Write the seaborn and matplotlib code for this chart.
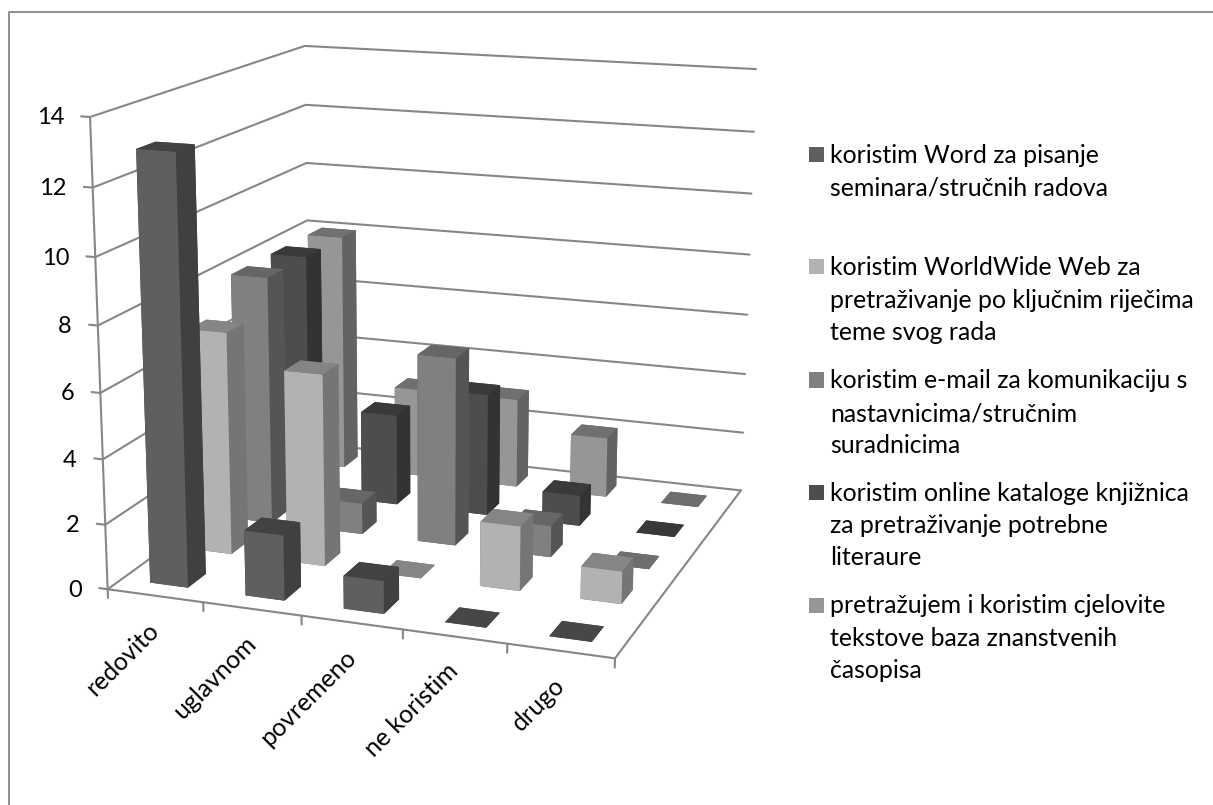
import numpy as np
import matplotlib
matplotlib.use("Agg")
import matplotlib.pyplot as plt
from matplotlib.lines import Line2D
from matplotlib.patches import Rectangle
from mpl_toolkits.mplot3d import proj3d
import seaborn as sns

categories = ["redovito", "uglavnom", "povremeno", "ne koristim", "drugo"]
word = [13, 2, 1, 0, 0]
web = [7, 6, 0, 2, 1]
email = [8, 1, 6, 1, 0]
catalog = [8, 3, 4, 1, 0]
fulltext = [8, 3, 3, 2, 0]
series = [word, web, email, catalog, fulltext]
z_ticks = [0, 2, 4, 6, 8, 10, 12, 14]
legend_lines = [
    ["koristim Word za pisanje", "seminara/stručnih radova"],
    ["koristim WorldWide Web za", "pretraživanje po ključnim riječima", "teme svog rada"],
    ["koristim e-mail za komunikaciju s", "nastavnicima/stručnim", "suradnicima"],
    ["koristim online kataloge knjižnica", "za pretraživanje potrebne", "literaure"],
    ["pretražujem i koristim cjelovite", "tekstove baza znanstvenih", "časopisa"],
]
legend_baseline = [[163, 195], [275, 308, 340], [388, 421, 453], [501, 533, 565], [613, 646, 678]]
# front, top, side, flat (zero height) greys
face_front = ["#5f5f5f", "#b2b2b2", "#808080", "#4d4d4d", "#969696"]
face_top = ["#424242", "#858585", "#666666", "#3a3a3a", "#707070"]
face_side = ["#404040", "#757575", "#555555", "#333333", "#636363"]
face_flat = ["#474747", "#858585", "#6e6e6e", "#383838", "#6e6e6e"]

sns.set_theme(style="white")
plt.rcParams["font.family"] = ["Lato", "DejaVu Sans"]
W, H = 1213, 805
fig = plt.figure(figsize=(W / 100, H / 100), dpi=100, facecolor="white")
# The outer chart frame: only its top and left edges fall inside the picture
fig.add_artist(Line2D([9 / W, 9 / W, 1], [0, 1 - 12 / H, 1 - 12 / H], transform=fig.transFigure,
                      color="#868686", lw=1.3))
ax = fig.add_axes([0, (1 - W / H) / 2, 1, W / H], projection="3d")
ax.set_axis_off()
ax.patch.set_visible(False)
ax.computed_zorder = False
ax.apply_aspect()

# Camera calibrated from where the chart box corners fall in the picture
world = np.array([[0, 0, 0], [0, 0, 14], [0, 0, 8], [0, 5, 14], [0, 5, 10], [5, 5, 14], [5, 5, 8],
                  [5, 5, 0], [5, 0, 0], [1, 0, 0], [4, 0, 0]], float)
pixels = np.array([[108, 589], [90, 117], [98, 325], [305, 46], [306, 163], [756, 69], [749.5, 255],
                   [741, 490], [615, 658], [203, 603], [507, 644]], float)
display = np.column_stack([pixels[:, 0], H - pixels[:, 1]])
uv = ax.transData.inverted().transform(display)
rows = []
for (X, Y, Z), (u, v) in zip(world, uv):
    rows.append([X, Y, Z, 1, 0, 0, 0, 0, -u * X, -u * Y, -u * Z, -u])
    rows.append([0, 0, 0, 0, X, Y, Z, 1, -v * X, -v * Y, -v * Z, -v])
P = np.linalg.svd(np.array(rows))[2][-1].reshape(3, 4)
if P[2] @ np.array([2.5, 2.5, 0, 1]) < 0:
    P = -P
M = np.vstack([P[0], P[1], [0, 0, 0, -1], P[2]])
ax.get_proj = lambda: M


def label_at(x, y, z, text, offset, **kw):
    u, v, _ = proj3d.proj_transform(x, y, z, M)
    ax.annotate(text, xy=(u, v), xycoords="data", xytext=offset, textcoords="offset pixels",
                color="black", zorder=50, annotation_clip=False, **kw)


grid = dict(color="#868686", lw=1.5, solid_capstyle="round", zorder=1)
for z in z_ticks:
    ax.plot([0, 0, 5], [0, 5, 5], [z, z, z], **grid)
    ax.plot([0, -0.09], [0, 0], [z, z], **grid)
    label_at(0, 0, z, str(z), (-26, -1), ha="right", va="center", fontsize=17)
ax.plot([0, 0], [0, 0], [0, 14], **grid)
ax.plot([0, 5, 5], [0, 0, 5], [0, 0, 0], **grid)
for i in range(6):
    ax.plot([i, i], [0, 0], [0, -0.27], **grid)
for i, cat in enumerate(categories):
    label_at(i + 0.5, 0, 0, cat, (0, -31), ha="right", va="center", rotation=45,
             rotation_mode="anchor", fontsize=17.9)

bar_w = 0.4
zo = 10
for s in range(len(series) - 1, -1, -1):
    for c in range(len(categories)):
        val = series[s][c]
        top = face_flat[s] if val == 0 else face_top[s]
        colors = [face_side[s], top, face_front[s], face_side[s], face_side[s], face_side[s]]
        ax.bar3d(c + 0.3, s + 0.3, 0, bar_w, bar_w, val, color=colors, shade=False, zorder=zo,
                 linewidth=0)
        zo += 1

for s, lines in enumerate(legend_lines):
    base = legend_baseline[s][0]
    fig.add_artist(Rectangle((809 / W, 1 - (base - 0.5) / H), 15 / W, 15 / H,
                             transform=fig.transFigure, fc=face_front[s], ec="none"))
    for line, y in zip(lines, legend_baseline[s]):
        fig.text(830 / W, 1 - y / H, line, ha="left", va="baseline", fontsize=17.9, color="black")

fig.savefig("out.png", dpi=100)
